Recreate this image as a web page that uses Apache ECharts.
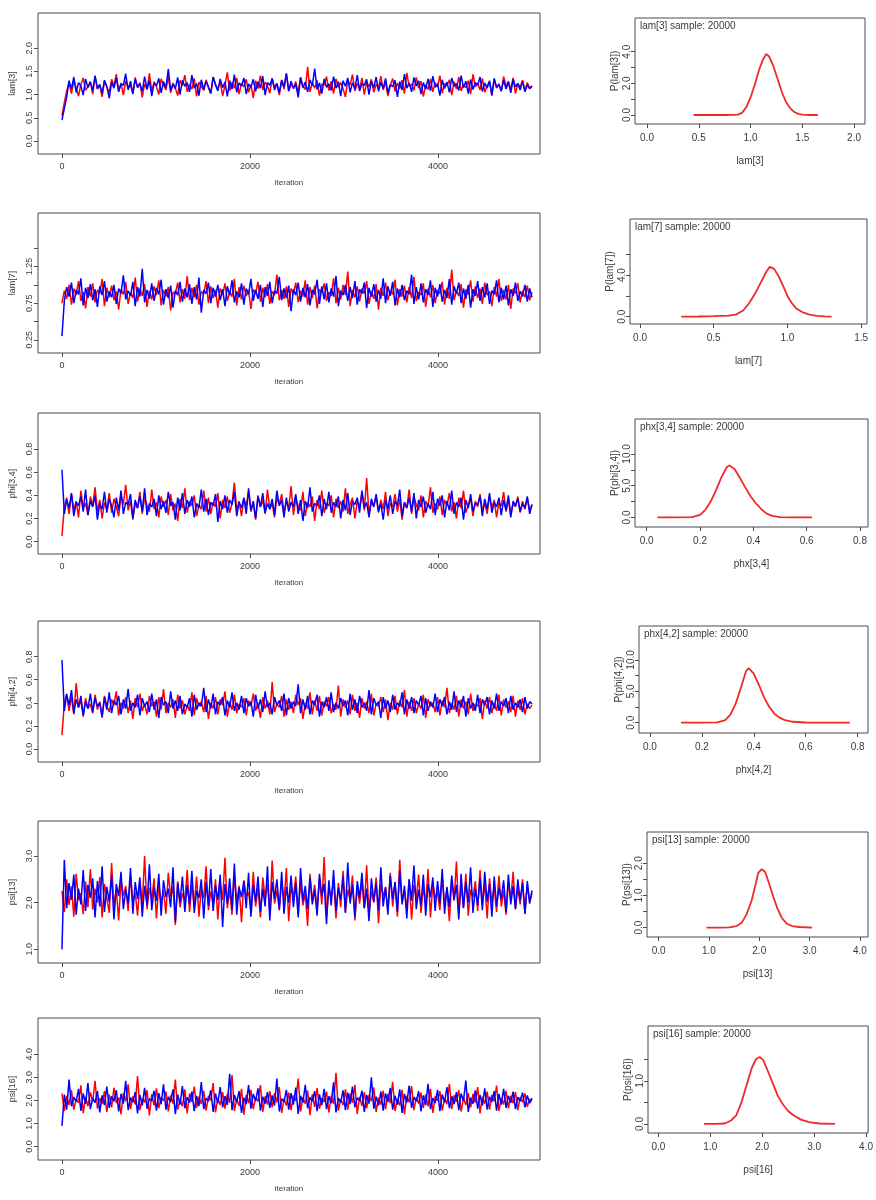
<!DOCTYPE html>
<html>
<head>
<meta charset="utf-8">
<script src="https://cdn.jsdelivr.net/npm/echarts@6/dist/echarts.min.js"></script>
<style>
  html, body { margin: 0; padding: 0; background: #fff; }
  #chart { width: 876px; height: 1200px; }
</style>
</head>
<body>
<div id="chart"></div>
<script>
// trace values, two chains per node (one value per ~25 iterations)
const lam3Red = [0.55,0.82,1.08,1.25,1.02,1.31,1.14,0.97,1.22,1.36,1.09,1.18,1.27,1.01,1.40,1.12,1.21,0.95,1.29,1.16,
  1.05,1.33,1.19,1.44,1.08,1.24,0.99,1.30,1.13,1.20,1.03,1.37,1.15,1.26,0.94,1.23,1.11,1.46,1.07,1.28,
  1.17,1.00,1.34,1.21,1.10,1.39,1.04,1.25,1.14,0.98,1.31,1.19,1.42,1.06,1.22,1.12,1.35,0.96,1.27,1.18,
  1.09,1.32,1.15,1.02,1.38,1.23,1.11,1.29,0.97,1.20,1.48,1.08,1.26,1.14,1.36,1.01,1.24,1.17,1.33,1.05,
  1.21,0.93,1.30,1.13,1.41,1.10,1.27,1.19,1.03,1.35,1.16,1.24,0.99,1.32,1.12,1.45,1.07,1.22,1.15,1.28,
  1.04,1.37,1.18,1.11,1.60,1.06,1.25,1.14,1.31,0.98,1.23,1.20,1.39,1.09,1.29,1.02,1.34,1.16,1.26,1.13,
  0.95,1.30,1.21,1.43,1.08,1.24,1.12,1.36,1.00,1.27,1.17,1.33,1.05,1.22,1.15,1.40,1.10,1.28,0.97,1.19,
  1.35,1.07,1.25,1.13,1.31,1.02,1.47,1.18,1.23,1.09,1.37,1.14,1.29,0.96,1.21,1.11,1.34,1.06,1.26,1.16,
  1.41,1.03,1.24,1.19,1.32,0.99,1.28,1.12,1.38,1.08,1.22,1.15,1.30,1.01,1.44,1.17,1.25,1.10,1.35,1.05,
  1.20,1.27,0.98,1.33,1.14,1.23,1.07,1.39,1.18,1.29,1.11,1.36,1.02,1.24,1.16,1.31,1.09,1.26,1.13,1.19];
const lam3Blue = [0.45,0.70,0.95,1.30,1.12,1.38,1.05,1.26,1.19,0.99,1.34,1.15,1.28,1.08,1.41,1.13,1.22,1.02,1.31,1.18,
  0.92,1.27,1.14,1.36,1.06,1.24,1.20,1.45,1.10,1.29,1.01,1.33,1.16,1.23,1.07,1.39,1.12,1.30,0.97,1.25,
  1.19,1.35,1.04,1.28,1.15,1.55,1.09,1.22,1.13,1.37,1.00,1.31,1.18,1.26,1.06,1.42,1.14,1.24,0.98,1.32,
  1.11,1.29,1.17,1.03,1.38,1.21,1.08,1.34,1.15,1.27,0.96,1.30,1.12,1.43,1.05,1.25,1.19,1.36,1.01,1.23,
  1.16,1.33,1.07,1.28,1.14,1.40,0.99,1.26,1.20,1.35,1.10,1.24,1.04,1.31,1.17,1.46,1.08,1.29,1.13,1.22,
  0.94,1.37,1.15,1.27,1.06,1.32,1.19,1.56,1.11,1.25,1.02,1.34,1.16,1.23,1.09,1.39,1.14,1.28,0.97,1.30,
  1.18,1.36,1.05,1.26,1.12,1.42,1.08,1.24,1.20,1.33,1.00,1.29,1.15,1.38,1.07,1.27,1.13,1.35,1.03,1.22,
  1.17,1.31,0.95,1.28,1.10,1.44,1.14,1.25,1.06,1.37,1.19,1.30,1.01,1.26,1.12,1.34,1.08,1.40,1.16,1.23,
  0.98,1.32,1.13,1.27,1.05,1.36,1.18,1.24,1.09,1.41,1.15,1.29,1.02,1.33,1.11,1.26,1.20,1.38,1.07,1.25,
  1.14,1.30,0.99,1.35,1.16,1.22,1.08,1.31,1.12,1.27,1.04,1.33,1.17,1.24,1.10,1.29,1.06,1.21,1.13,1.18];

const lam7Red = [0.75,0.92,0.81,1.00,0.73,0.95,0.86,1.05,0.78,0.90,0.68,0.97,0.84,1.02,0.76,0.93,0.88,1.08,0.71,0.96,
  0.83,0.99,0.79,0.91,0.66,0.94,0.87,1.04,0.74,0.89,0.82,1.10,0.77,0.95,0.85,1.01,0.70,0.92,0.80,0.98,
  0.86,1.06,0.72,0.93,0.84,0.97,0.65,0.90,0.88,1.03,0.76,0.94,0.81,1.12,0.79,0.96,0.83,1.00,0.73,0.91,
  0.87,1.05,0.75,0.98,0.82,0.93,0.69,0.95,0.86,1.02,0.78,0.90,0.84,1.08,0.72,0.97,0.80,0.99,0.85,0.92,
  0.67,0.94,0.88,1.04,0.77,0.96,0.83,1.01,0.74,0.91,0.86,1.14,0.79,0.93,0.81,0.98,0.70,0.95,0.87,1.03,
  0.76,0.92,0.84,1.06,0.73,0.97,0.82,0.99,0.68,0.94,0.89,1.02,0.78,0.90,0.85,1.09,0.75,0.96,0.80,1.00,
  0.86,1.18,0.71,0.93,0.83,0.98,0.77,0.95,0.88,1.05,0.74,0.91,0.81,1.01,0.66,0.96,0.85,1.03,0.79,0.92,
  0.87,1.07,0.72,0.94,0.84,0.99,0.76,0.97,0.82,1.11,0.78,0.90,0.86,1.02,0.70,0.95,0.83,1.00,0.75,0.93,
  0.88,1.04,0.73,0.96,0.81,1.21,0.79,0.92,0.85,1.01,0.69,0.94,0.87,1.06,0.77,0.98,0.82,0.95,0.74,1.03,
  0.86,0.91,0.71,0.97,0.84,1.08,0.78,0.93,0.80,1.00,0.67,0.95,0.88,1.02,0.76,0.92,0.83,0.99,0.79,0.90];
const lam7Blue = [0.30,0.78,0.97,0.84,1.03,0.75,0.93,0.87,1.09,0.72,0.96,0.82,1.01,0.79,0.94,0.70,0.98,0.86,1.05,0.77,
  0.91,0.83,1.00,0.74,0.95,0.88,1.13,0.80,0.92,0.85,1.04,0.71,0.97,0.84,1.22,0.76,0.93,0.81,1.02,0.78,
  0.96,0.87,1.07,0.73,0.94,0.82,0.99,0.69,0.92,0.86,1.04,0.77,0.95,0.83,1.01,0.74,0.97,0.80,1.10,0.62,
  0.93,0.88,1.03,0.75,0.96,0.84,1.00,0.79,0.94,0.71,0.98,0.86,1.06,0.76,0.91,0.83,1.02,0.73,0.95,0.87,
  1.08,0.78,0.93,0.81,1.00,0.70,0.97,0.85,1.04,0.75,0.92,0.88,1.11,0.79,0.95,0.82,0.99,0.64,0.94,0.86,
  1.03,0.77,0.96,0.83,1.01,0.72,0.93,0.87,1.07,0.74,0.98,0.80,1.02,0.76,0.95,0.84,1.12,0.71,0.92,0.86,
  1.00,0.78,0.97,0.82,1.05,0.73,0.94,0.88,1.03,0.68,0.96,0.84,1.01,0.77,0.93,0.81,1.09,0.75,0.98,0.85,
  1.04,0.72,0.95,0.83,1.00,0.79,0.92,0.87,1.14,0.74,0.97,0.80,1.02,0.76,0.94,0.86,1.06,0.70,0.96,0.84,
  1.01,0.77,0.93,0.82,1.08,0.73,0.98,0.88,1.03,0.75,0.95,0.81,1.00,0.69,0.94,0.85,1.05,0.78,0.97,0.83,
  1.02,0.74,0.92,0.87,1.06,0.76,0.96,0.80,0.99,0.72,0.94,0.85,1.03,0.78,0.91,0.84,1.00,0.77,0.95,0.83];

const phi34Red = [0.05,0.30,0.38,0.24,0.41,0.27,0.35,0.21,0.44,0.29,0.33,0.23,0.39,0.31,0.47,0.26,0.36,0.20,0.34,0.28,
  0.42,0.25,0.37,0.30,0.22,0.40,0.32,0.49,0.27,0.35,0.19,0.33,0.29,0.43,0.24,0.38,0.31,0.26,0.45,0.28,
  0.34,0.21,0.39,0.30,0.36,0.23,0.41,0.27,0.33,0.18,0.37,0.29,0.46,0.25,0.35,0.31,0.40,0.22,0.32,0.28,
  0.44,0.26,0.38,0.24,0.34,0.30,0.42,0.20,0.36,0.29,0.39,0.25,0.33,0.51,0.27,0.35,0.22,0.37,0.31,0.43,
  0.26,0.34,0.19,0.40,0.30,0.36,0.24,0.45,0.28,0.33,0.21,0.38,0.32,0.41,0.25,0.35,0.29,0.48,0.23,0.37,
  0.31,0.27,0.43,0.22,0.34,0.30,0.39,0.18,0.36,0.28,0.44,0.25,0.33,0.31,0.40,0.21,0.37,0.29,0.35,0.26,
  0.46,0.24,0.32,0.38,0.20,0.35,0.30,0.42,0.27,0.55,0.23,0.34,0.31,0.39,0.25,0.36,0.28,0.43,0.22,0.33,
  0.30,0.41,0.26,0.37,0.19,0.34,0.29,0.45,0.24,0.38,0.32,0.27,0.40,0.21,0.35,0.30,0.47,0.25,0.33,0.28,
  0.39,0.23,0.36,0.31,0.42,0.26,0.34,0.20,0.38,0.29,0.44,0.25,0.32,0.37,0.22,0.35,0.30,0.41,0.27,0.33,
  0.24,0.40,0.29,0.36,0.21,0.34,0.31,0.43,0.26,0.37,0.23,0.33,0.30,0.39,0.25,0.35,0.28,0.38,0.27,0.32];
const phi34Blue = [0.62,0.24,0.36,0.29,0.42,0.22,0.34,0.31,0.39,0.26,0.45,0.23,0.35,0.30,0.40,0.19,0.33,0.28,0.43,0.25,
  0.37,0.31,0.21,0.38,0.27,0.44,0.24,0.34,0.32,0.41,0.20,0.36,0.29,0.39,0.26,0.46,0.23,0.33,0.30,0.37,
  0.22,0.40,0.28,0.35,0.25,0.43,0.31,0.34,0.19,0.38,0.27,0.42,0.24,0.36,0.30,0.39,0.21,0.33,0.29,0.45,
  0.26,0.37,0.23,0.34,0.31,0.41,0.17,0.35,0.28,0.40,0.25,0.36,0.32,0.43,0.22,0.34,0.29,0.38,0.24,0.46,
  0.27,0.35,0.20,0.39,0.30,0.42,0.25,0.33,0.28,0.37,0.23,0.44,0.31,0.36,0.21,0.38,0.26,0.34,0.30,0.41,
  0.24,0.36,0.18,0.35,0.29,0.47,0.26,0.33,0.31,0.40,0.22,0.37,0.28,0.43,0.25,0.34,0.30,0.39,0.20,0.36,
  0.27,0.42,0.23,0.35,0.32,0.38,0.25,0.44,0.29,0.34,0.21,0.37,0.30,0.41,0.26,0.33,0.19,0.36,0.28,0.40,
  0.24,0.35,0.31,0.45,0.22,0.34,0.29,0.38,0.26,0.42,0.20,0.36,0.30,0.39,0.25,0.33,0.28,0.43,0.23,0.37,
  0.31,0.40,0.21,0.35,0.27,0.44,0.24,0.34,0.30,0.38,0.19,0.36,0.29,0.41,0.26,0.33,0.32,0.39,0.22,0.37,
  0.28,0.42,0.25,0.34,0.30,0.38,0.23,0.36,0.27,0.40,0.21,0.35,0.31,0.37,0.26,0.33,0.29,0.39,0.24,0.32];

const phi42Red = [0.12,0.40,0.48,0.33,0.45,0.30,0.57,0.36,0.42,0.28,0.44,0.35,0.39,0.31,0.47,0.34,0.41,0.27,0.46,0.37,
  0.32,0.43,0.38,0.50,0.29,0.40,0.35,0.45,0.31,0.42,0.26,0.44,0.36,0.48,0.33,0.39,0.30,0.46,0.37,0.41,
  0.28,0.45,0.34,0.52,0.31,0.40,0.36,0.43,0.27,0.47,0.35,0.42,0.30,0.38,0.33,0.49,0.29,0.44,0.37,0.41,
  0.32,0.46,0.26,0.40,0.35,0.45,0.30,0.43,0.38,0.50,0.28,0.41,0.34,0.47,0.31,0.39,0.36,0.44,0.29,0.42,
  0.37,0.48,0.33,0.40,0.27,0.45,0.35,0.42,0.30,0.58,0.32,0.39,0.36,0.46,0.28,0.43,0.34,0.41,0.31,0.47,
  0.38,0.44,0.26,0.40,0.35,0.49,0.30,0.42,0.33,0.46,0.29,0.41,0.37,0.45,0.31,0.39,0.34,0.55,0.28,0.43,
  0.36,0.42,0.30,0.47,0.33,0.40,0.27,0.44,0.35,0.41,0.31,0.48,0.29,0.39,0.37,0.45,0.32,0.43,0.25,0.40,
  0.34,0.46,0.30,0.42,0.36,0.51,0.28,0.41,0.33,0.44,0.31,0.39,0.35,0.47,0.27,0.43,0.37,0.40,0.32,0.45,
  0.29,0.42,0.36,0.53,0.31,0.40,0.34,0.46,0.28,0.43,0.35,0.41,0.30,0.48,0.33,0.39,0.37,0.44,0.26,0.42,
  0.35,0.45,0.31,0.40,0.33,0.47,0.29,0.43,0.36,0.41,0.32,0.46,0.28,0.42,0.34,0.44,0.30,0.39,0.35,0.38];
const phi42Blue = [0.77,0.33,0.47,0.38,0.51,0.31,0.43,0.36,0.46,0.29,0.41,0.35,0.48,0.32,0.44,0.37,0.40,0.28,0.45,0.34,
  0.49,0.31,0.42,0.38,0.46,0.30,0.43,0.35,0.52,0.33,0.40,0.36,0.47,0.29,0.44,0.37,0.41,0.32,0.48,0.34,
  0.43,0.27,0.45,0.38,0.41,0.31,0.50,0.35,0.42,0.33,0.46,0.30,0.39,0.36,0.44,0.28,0.47,0.34,0.40,0.37,
  0.53,0.32,0.43,0.35,0.48,0.30,0.41,0.38,0.45,0.29,0.42,0.36,0.49,0.33,0.40,0.34,0.46,0.31,0.44,0.37,
  0.41,0.28,0.47,0.35,0.43,0.32,0.50,0.36,0.40,0.30,0.45,0.38,0.42,0.33,0.48,0.29,0.44,0.35,0.41,0.37,
  0.56,0.31,0.43,0.34,0.46,0.30,0.42,0.38,0.47,0.28,0.41,0.36,0.45,0.33,0.49,0.32,0.40,0.35,0.44,0.37,
  0.42,0.29,0.48,0.34,0.43,0.31,0.46,0.36,0.40,0.33,0.51,0.30,0.44,0.38,0.41,0.27,0.45,0.35,0.42,0.32,
  0.47,0.34,0.40,0.37,0.49,0.30,0.43,0.35,0.45,0.31,0.42,0.38,0.46,0.29,0.44,0.33,0.41,0.36,0.48,0.32,
  0.43,0.37,0.45,0.30,0.41,0.34,0.50,0.32,0.42,0.36,0.46,0.28,0.44,0.35,0.40,0.33,0.47,0.31,0.43,0.38,
  0.45,0.30,0.42,0.35,0.48,0.33,0.41,0.37,0.44,0.31,0.46,0.34,0.40,0.36,0.43,0.32,0.45,0.35,0.41,0.39];

const psi13Red = [2.25,1.80,2.50,1.95,2.35,1.70,2.62,2.05,2.20,1.75,2.45,1.90,2.72,1.85,2.30,2.00,2.55,1.68,2.40,2.10,
  1.78,2.85,1.92,2.28,1.62,2.48,2.15,2.36,1.82,2.58,2.02,2.22,1.72,2.44,1.96,3.00,1.86,2.32,2.08,2.52,
  1.66,2.40,1.98,2.26,1.76,2.64,2.12,2.34,1.52,2.46,1.90,2.20,2.04,2.70,1.80,2.38,1.94,2.56,1.70,2.30,
  2.10,2.78,1.84,2.24,1.96,2.50,1.64,2.42,2.06,2.96,1.88,2.28,1.74,2.60,2.00,2.36,1.58,2.48,2.14,2.22,
  1.82,2.66,1.92,2.32,1.68,2.54,2.08,2.40,1.78,2.90,1.98,2.26,1.86,2.46,2.02,2.74,1.60,2.34,2.12,2.56,
  1.76,2.44,1.94,2.20,1.50,2.62,2.04,2.38,1.84,2.52,1.96,2.98,1.72,2.30,2.10,2.48,1.66,2.42,1.90,2.68,
  1.80,2.28,2.06,2.58,1.62,2.36,1.98,2.46,1.88,2.80,1.74,2.24,2.00,2.54,1.56,2.40,2.14,2.32,1.82,2.64,
  1.92,2.44,1.70,2.92,2.02,2.26,1.86,2.50,1.64,2.38,2.08,2.60,1.78,2.34,1.96,2.72,1.68,2.42,2.10,2.22,
  1.84,2.56,1.94,2.30,1.60,2.48,2.04,2.88,1.76,2.36,1.90,2.62,1.72,2.28,2.12,2.46,1.82,2.70,1.98,2.40,
  1.66,2.52,2.00,2.34,1.80,2.58,1.92,2.26,1.74,2.44,2.06,2.66,1.86,2.32,1.96,2.50,1.78,2.38,2.02,2.20];
const psi13Blue = [1.00,2.92,1.88,2.42,2.06,2.60,1.74,2.30,1.96,2.70,1.82,2.38,2.10,2.52,1.68,2.46,1.92,2.78,1.80,2.34,
  2.02,2.58,1.64,2.40,2.14,2.66,1.86,2.28,1.98,2.74,1.76,2.44,2.08,2.54,1.70,2.36,1.94,2.82,1.84,2.32,
  2.04,2.62,1.72,2.48,2.12,2.30,1.90,2.76,1.58,2.42,2.00,2.56,1.80,2.38,1.96,2.68,1.78,2.26,2.10,2.50,
  1.66,2.44,1.94,2.72,1.82,2.36,2.06,2.60,1.48,2.40,1.98,2.52,1.86,2.84,1.74,2.32,2.12,2.46,1.88,2.64,
  1.70,2.38,2.02,2.56,1.80,2.30,1.92,2.78,1.62,2.44,2.08,2.50,1.84,2.66,1.76,2.34,2.00,2.58,1.90,2.42,
  1.68,2.74,2.04,2.36,1.86,2.54,1.96,2.28,1.72,2.62,2.14,2.40,1.54,2.48,1.94,2.70,1.82,2.32,2.06,2.56,
  1.78,2.86,1.98,2.38,1.70,2.46,2.10,2.64,1.88,2.30,1.60,2.52,2.02,2.42,1.84,2.76,1.92,2.34,1.74,2.58,
  2.08,2.44,1.80,2.68,1.96,2.36,1.66,2.50,2.04,2.80,1.86,2.28,1.94,2.60,1.72,2.40,2.12,2.54,1.82,2.46,
  1.98,2.72,1.76,2.34,1.90,2.58,2.06,2.38,1.64,2.62,1.88,2.44,2.00,2.76,1.78,2.30,1.94,2.52,1.84,2.66,
  2.02,2.40,1.70,2.56,1.92,2.32,2.08,2.48,1.80,2.60,1.96,2.36,1.86,2.50,2.04,2.42,1.76,2.46,1.98,2.26];

const psi16Red = [2.30,1.55,2.20,1.80,2.45,1.60,2.05,1.90,2.65,1.45,2.15,1.75,2.35,1.95,2.85,1.65,2.10,1.85,2.40,1.50,
  2.25,1.70,2.55,1.88,2.12,1.40,2.32,1.96,2.70,1.62,2.18,1.82,3.05,1.58,2.08,1.92,2.44,1.35,2.26,1.78,
  2.52,1.66,2.14,1.98,2.38,1.52,2.22,1.86,2.90,1.60,2.04,1.74,2.48,1.44,2.30,1.94,2.60,1.68,2.16,1.84,
  2.42,1.56,2.20,2.00,2.75,1.48,2.10,1.80,2.36,1.64,2.28,1.90,3.10,1.54,2.06,1.76,2.50,1.38,2.24,1.88,
  2.46,1.62,2.12,1.96,2.66,1.50,2.18,1.82,2.40,1.70,2.32,1.92,2.58,1.46,2.08,1.78,2.34,1.58,2.22,1.98,
  2.95,1.52,2.14,1.86,2.44,1.36,2.26,1.72,2.54,1.64,2.10,1.94,2.38,1.48,2.20,1.84,3.20,1.56,2.04,1.80,
  2.48,1.60,2.30,1.90,2.68,1.42,2.16,1.76,2.36,1.66,2.24,1.96,2.56,1.50,2.12,1.82,2.42,1.62,2.28,1.88,
  2.80,1.54,2.06,1.78,2.46,1.40,2.20,1.92,2.62,1.58,2.14,1.86,2.34,1.68,2.26,1.74,2.50,1.46,2.18,1.98,
  2.40,1.56,2.08,1.84,2.72,1.62,2.22,1.94,2.44,1.52,2.12,1.80,2.32,1.70,2.28,1.90,2.58,1.44,2.16,1.86,
  2.38,1.60,2.24,1.96,2.64,1.54,2.10,1.82,2.42,1.66,2.20,1.88,2.36,1.58,2.14,1.92,2.30,1.72,2.06,1.98];
const psi16Blue = [0.90,2.25,1.60,2.90,1.75,2.15,1.95,2.50,1.55,2.30,1.85,2.75,1.62,2.10,1.90,2.40,1.48,2.22,1.80,2.60,
  1.68,2.18,1.96,2.45,1.52,2.28,1.86,2.85,1.58,2.12,1.92,2.36,1.44,2.24,1.78,2.55,1.64,2.08,1.98,2.42,
  1.56,2.32,1.84,2.70,1.60,2.16,1.94,2.48,1.40,2.26,1.82,2.62,1.66,2.14,1.90,2.38,1.54,2.20,1.76,2.80,
  1.62,2.10,1.96,2.44,1.50,2.30,1.88,2.58,1.70,2.18,1.80,3.15,1.58,2.24,1.92,2.40,1.46,2.12,1.84,2.66,
  1.64,2.28,1.98,2.52,1.56,2.16,1.86,2.36,1.68,2.22,1.78,2.95,1.52,2.08,1.94,2.46,1.60,2.32,1.82,2.56,
  1.42,2.20,1.90,2.68,1.66,2.14,1.96,2.40,1.54,2.26,1.80,2.50,1.62,2.18,1.88,2.78,1.48,2.10,1.92,2.44,
  1.58,2.34,1.84,2.60,1.70,2.12,1.98,2.42,1.50,2.24,1.86,3.00,1.64,2.16,1.78,2.38,1.56,2.30,1.94,2.54,
  1.60,2.20,1.82,2.48,1.46,2.28,1.90,2.64,1.68,2.14,1.96,2.40,1.52,2.22,1.80,2.72,1.62,2.10,1.88,2.46,
  1.54,2.26,1.92,2.58,1.66,2.18,1.84,2.36,1.58,2.30,1.98,2.86,1.50,2.12,1.86,2.44,1.64,2.24,1.78,2.52,
  1.60,2.16,1.94,2.40,1.56,2.28,1.82,2.50,1.68,2.20,1.90,2.38,1.62,2.14,1.96,2.34,1.70,2.22,1.88,2.10];

// kernel density curves [value, density]
const lam3Density = [[0.45, 0], [0.6, 0], [0.75, 0], [0.88, 0.02], [0.92, 0.15], [0.96, 0.5], [1.0, 1.1], [1.04, 1.9], [1.08, 2.8], [1.12, 3.5], [1.15, 3.85], [1.18, 3.7], [1.22, 3.1], [1.26, 2.3], [1.30, 1.5], [1.34, 0.85], [1.38, 0.45], [1.42, 0.2], [1.46, 0.07], [1.50, 0.02], [1.58, 0], [1.65, 0]];
const lam7Density = [[0.28, 0], [0.4, 0.02], [0.5, 0.05], [0.6, 0.1], [0.65, 0.2], [0.70, 0.6], [0.74, 1.3], [0.78, 2.2], [0.82, 3.3], [0.86, 4.4], [0.88, 4.8], [0.91, 4.6], [0.94, 3.9], [0.97, 3.0], [1.00, 2.0], [1.03, 1.3], [1.06, 0.8], [1.10, 0.45], [1.15, 0.2], [1.20, 0.08], [1.25, 0.03], [1.30, 0]];
const phi34Density = [[0.04, 0], [0.10, 0], [0.17, 0.05], [0.20, 0.4], [0.22, 1.2], [0.24, 2.5], [0.26, 4.3], [0.28, 6.3], [0.30, 7.9], [0.31, 8.2], [0.33, 7.6], [0.35, 6.2], [0.37, 4.7], [0.39, 3.3], [0.41, 2.2], [0.43, 1.3], [0.45, 0.6], [0.47, 0.25], [0.50, 0.05], [0.55, 0], [0.62, 0]];
const phi42Density = [[0.12, 0], [0.20, 0], [0.26, 0.05], [0.29, 0.4], [0.31, 1.3], [0.33, 3.0], [0.35, 5.5], [0.37, 8.2], [0.38, 8.7], [0.40, 7.8], [0.42, 6.0], [0.44, 4.0], [0.46, 2.5], [0.48, 1.4], [0.50, 0.8], [0.52, 0.4], [0.55, 0.15], [0.60, 0.03], [0.68, 0], [0.77, 0]];
const psi13Density = [[0.95, 0], [1.2, 0], [1.4, 0.01], [1.55, 0.05], [1.65, 0.15], [1.75, 0.42], [1.85, 0.85], [1.92, 1.3], [1.98, 1.7], [2.05, 1.82], [2.12, 1.72], [2.20, 1.35], [2.28, 0.95], [2.36, 0.6], [2.45, 0.3], [2.55, 0.12], [2.65, 0.05], [2.8, 0.02], [3.05, 0]];
const psi16Density = [[0.88, 0], [1.1, 0], [1.28, 0.01], [1.40, 0.08], [1.50, 0.2], [1.60, 0.5], [1.70, 0.9], [1.80, 1.3], [1.88, 1.5], [1.95, 1.55], [2.02, 1.48], [2.10, 1.25], [2.20, 0.95], [2.30, 0.65], [2.40, 0.45], [2.50, 0.3], [2.60, 0.2], [2.75, 0.1], [2.90, 0.04], [3.1, 0.01], [3.4, 0]];

// ticks: all tick marks, and the ones that carry a label
const iterTicks = [0, 2000, 4000];
const lam3TraceTicks = [0, 0.5, 1, 1.5, 2];
const lam7TraceTicks = [0.25, 0.5, 0.75, 1, 1.25, 1.5];
const lam7TraceLabels = [0.25, 0.75, 1.25];
const phiTraceTicks = [0, 0.2, 0.4, 0.6, 0.8];
const psi13TraceTicks = [1, 2, 3];
const psi16TraceTicks = [0, 1, 2, 3, 4];

const lam3DensXTicks = [0, 0.5, 1, 1.5, 2];
const lam3DensYTicks = [0, 1, 2, 3, 4];
const lam3DensYLabels = [0, 2, 4];
const lam7DensXTicks = [0, 0.5, 1, 1.5];
const lam7DensYTicks = [0, 2, 4, 6];
const lam7DensYLabels = [0, 4];
const phiDensXTicks = [0, 0.2, 0.4, 0.6, 0.8];
const phiDensYTicks = [0, 2.5, 5, 7.5, 10];
const phiDensYLabels = [0, 5, 10];
const psiDensXTicks = [0, 1, 2, 3, 4];
const psi13DensYTicks = [0, 0.5, 1, 1.5, 2];
const psi13DensYLabels = [0, 1, 2];
const psi16DensYTicks = [0, 0.5, 1, 1.5];
const psi16DensYLabels = [0, 1];

const traces = [
  { name: "lam[3]", red: lam3Red, blue: lam3Blue, y: [-0.28, 2.76], ticks: lam3TraceTicks, labels: lam3TraceTicks, dec: 1, box: [38, 13, 502, 141] },
  { name: "lam[7]", red: lam7Red, blue: lam7Blue, y: [0.07, 1.98], ticks: lam7TraceTicks, labels: lam7TraceLabels, dec: 2, box: [38, 213, 502, 140] },
  { name: "phi[3,4]", red: phi34Red, blue: phi34Blue, y: [-0.106, 1.11], ticks: phiTraceTicks, labels: phiTraceTicks, dec: 1, box: [38, 413, 502, 141] },
  { name: "phi[4,2]", red: phi42Red, blue: phi42Blue, y: [-0.113, 1.109], ticks: phiTraceTicks, labels: phiTraceTicks, dec: 1, box: [38, 621, 502, 141] },
  { name: "psi[13]", red: psi13Red, blue: psi13Blue, y: [0.706, 3.75], ticks: psi13TraceTicks, labels: psi13TraceTicks, dec: 1, box: [38, 821, 502, 142] },
  { name: "psi[16]", red: psi16Red, blue: psi16Blue, y: [-0.58, 5.57], ticks: psi16TraceTicks, labels: psi16TraceTicks, dec: 1, box: [38, 1018, 502, 142] },
];

const densities = [
  { node: "lam[3]", yName: "P(lam[3])", curve: lam3Density, x: [-0.116, 2.106], y: [-0.57, 6.13], xTicks: lam3DensXTicks, yTicks: lam3DensYTicks, yLabels: lam3DensYLabels, box: [635, 18, 230, 106] },
  { node: "lam[7]", yName: "P(lam[7])", curve: lam7Density, x: [-0.068, 1.54], y: [-0.7, 9.4], xTicks: lam7DensXTicks, yTicks: lam7DensYTicks, yLabels: lam7DensYLabels, box: [630, 219, 237, 105] },
  { node: "phx[3,4]", yName: "P(phi[3,4])", curve: phi34Density, x: [-0.044, 0.83], y: [-1.5, 15.5], xTicks: phiDensXTicks, yTicks: phiDensYTicks, yLabels: phiDensYLabels, box: [635, 419, 233, 108] },
  { node: "phx[4,2]", yName: "P(phi[4,2])", curve: phi42Density, x: [-0.042, 0.84], y: [-1.64, 15.4], xTicks: phiDensXTicks, yTicks: phiDensYTicks, yLabels: phiDensYLabels, box: [639, 626, 229, 107] },
  { node: "psi[13]", yName: "P(psi[13])", curve: psi13Density, x: [-0.23, 4.16], y: [-0.29, 2.97], xTicks: psiDensXTicks, yTicks: psi13DensYTicks, yLabels: psi13DensYLabels, box: [647, 832, 221, 105] },
  { node: "psi[16]", yName: "P(psi[16])", curve: psi16Density, x: [-0.2, 4.04], y: [-0.21, 2.27], xTicks: psiDensXTicks, yTicks: psi16DensYTicks, yLabels: psi16DensYLabels, box: [648, 1026, 222, 107] },
];

const FONT = "Liberation Sans, Arial, sans-serif";
const TEXT = "#3a3a3a";
const BORDER = "#4a4a4a";

function withIterations(values) {
  return values.map((v, i) => [Math.round((i * 5000) / (values.length - 1)), v]);
}

function gridFor(box) {
  return {
    left: box[0], top: box[1], width: box[2], height: box[3],
    show: true, borderColor: BORDER, borderWidth: 1, backgroundColor: "#fff",
  };
}

function axisFor(opts) {
  return {
    type: "value",
    gridIndex: opts.gridIndex,
    min: opts.range[0],
    max: opts.range[1],
    name: opts.name,
    nameLocation: "middle",
    nameGap: opts.nameGap,
    nameRotate: opts.nameRotate,
    nameTextStyle: { fontFamily: FONT, fontSize: opts.nameSize, color: TEXT },
    // the grid border is the box; keep ticks on its edge, not at zero
    axisLine: { show: false, onZero: false },
    splitLine: { show: false },
    axisTick: { show: true, inside: false, length: 4, customValues: opts.ticks, lineStyle: { color: BORDER } },
    axisLabel: {
      customValues: opts.labels,
      rotate: opts.rotate || 0,
      margin: opts.margin,
      fontFamily: FONT,
      fontSize: opts.labelSize,
      color: TEXT,
      formatter: (v) => Number(v).toFixed(opts.dec),
    },
  };
}

const grid = [];
const xAxis = [];
const yAxis = [];
const series = [];
const title = [];

traces.forEach((t) => {
  const gi = grid.length;
  grid.push(gridFor(t.box));
  xAxis.push(axisFor({
    gridIndex: gi, range: [-255, 5085], name: "iteration", nameGap: 25, nameSize: 8,
    ticks: iterTicks, labels: iterTicks, dec: 0, margin: 8, labelSize: 9,
  }));
  yAxis.push(axisFor({
    gridIndex: gi, range: t.y, name: t.name, nameGap: 17, nameRotate: 90, nameSize: 9,
    ticks: t.ticks, labels: t.labels, dec: t.dec, rotate: 90, margin: 4, labelSize: 9,
  }));
  [["red", t.red, "#ff0000"], ["blue", t.blue, "#0000ff"]].forEach(([chain, values, color]) => {
    series.push({
      name: `${t.name} ${chain}`,
      type: "line",
      xAxisIndex: gi,
      yAxisIndex: gi,
      data: withIterations(values),
      showSymbol: false,
      silent: true,
      animation: false,
      lineStyle: { width: 1.5, color },
    });
  });
});

densities.forEach((d) => {
  const gi = grid.length;
  grid.push(gridFor(d.box));
  xAxis.push(axisFor({
    gridIndex: gi, range: d.x, name: d.node, nameGap: 32, nameSize: 10,
    ticks: d.xTicks, labels: d.xTicks, dec: 1, margin: 9, labelSize: 10,
  }));
  yAxis.push(axisFor({
    gridIndex: gi, range: d.y, name: d.yName, nameGap: 15, nameRotate: 90, nameSize: 10,
    ticks: d.yTicks, labels: d.yLabels, dec: 1, rotate: 90, margin: 3, labelSize: 10,
  }));
  series.push({
    name: d.node,
    type: "line",
    xAxisIndex: gi,
    yAxisIndex: gi,
    data: d.curve,
    showSymbol: false,
    silent: true,
    animation: false,
    lineStyle: { width: 1.8, color: "#ee2a2a" },
  });
  title.push({
    text: `${d.node} sample: 20000`,
    left: d.box[0] + 5,
    top: d.box[1] + 3,
    padding: 0,
    textStyle: { fontFamily: FONT, fontSize: 10, fontWeight: "normal", color: TEXT },
  });
});

const chart = echarts.init(document.getElementById("chart"), null, { renderer: "canvas" });
chart.setOption({
  backgroundColor: "#fff",
  animation: false,
  title,
  grid,
  xAxis,
  yAxis,
  series,
});
</script>
</body>
</html>
